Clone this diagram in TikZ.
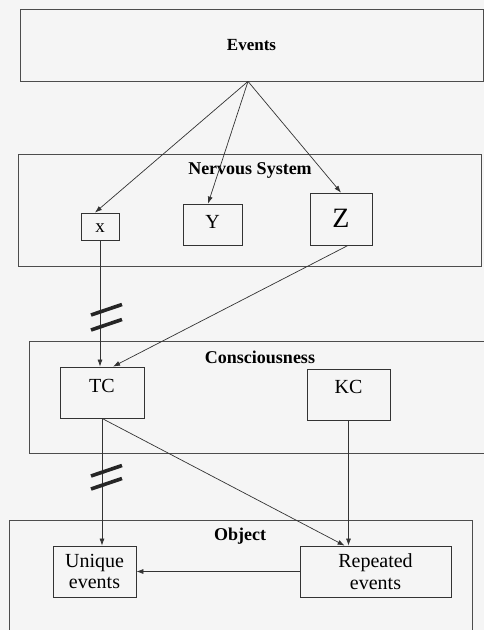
\documentclass[tikz,border=0pt]{standalone}
\usepackage{fontspec}
\setmainfont{Liberation Serif}
\usetikzlibrary{arrows.meta}

\begin{document}
\begin{tikzpicture}
        [x=1pt,y=-1pt,
        every node/.style={inner sep=0pt},
        panel/.style={draw=black!70,line width=0.8pt,minimum width=463},
        item/.style={draw=black!80,line width=0.8pt,
                font=\fontsize{20}{21.5}\selectfont},
        title/.style={anchor=base,font=\fontsize{18}{20}\selectfont\bfseries},
        link/.style={draw=black!80,line width=0.7pt,
                -{Latex[length=7pt,width=5pt]}},
        cut/.style={draw=black!85,line width=3.6pt}]
        \fill[black!4] (0,0) rectangle (484,630);
        \clip (0,0) rectangle (484,630);
        % layers
        \node[panel,minimum height=72,font=\fontsize{17}{20}\selectfont\bfseries]
                (ev) at (251.5,45) {Events};
        \node[panel,minimum height=112] (ns) at (249.5,210) {};
        \node[panel,minimum height=112,minimum width=466] (cs) at (262,397) {};
        \node[panel,minimum height=130] (ob) at (240.5,585) {};
        \node[title] (nst) at (250,174) {Nervous System};
        \node[title] (cst) at (260,363) {Consciousness};
        \node[title] (obt) at (240,540) {Object};
        % boxes
        \node[item,minimum width=38,text height=19,text depth=8,
                font=\fontsize{19}{20}\selectfont] (xb) at (100,226.5) {x};
        \node[item,minimum width=59,text height=24,text depth=17] (yb) at (212.5,224.5) {Y};
        \node[item,minimum width=62,text height=34,text depth=18,
                font=\fontsize{28}{30}\selectfont] (zb) at (341,219) {Z};
        \node[item,minimum width=84,text height=25,text depth=26] (tc) at (102,392.5) {TC};
        \node[item,minimum width=83,text height=24,text depth=27] (kc) at (348.5,394.5) {KC};
        \node[item,minimum width=83,minimum height=51,align=center]
                (ue) at (94.5,571.5) {Unique\\events};
        \node[item,minimum width=151,minimum height=51,align=center]
                (re) at (375.5,571.5) {Repeated\\events};
        % connectors
        \coordinate (hub) at ([xshift=-3.5pt]ev.south);
        \draw[link] (hub) -- (xb.110);
        \draw[link] (hub) -- (yb.102);
        \draw[link] (hub) -- (zb.north);
        \draw[link] (xb.south) -- (xb.south |- tc.north);
        \draw[link] (zb.285) -- (tc.67);
        \draw[link] (tc.south) -- (tc.south |- ue.north);
        \draw[link] (tc.south) -- (re.140);
        \draw[link] (kc.south) -- (kc.south |- re.north);
        \draw[link] (re.west) -- (ue.east);
        % breaks
        \foreach \y in {315,330,476,489}
                \draw[cut] (91,\y) -- (122,\y-10.5);
\end{tikzpicture}
\end{document}
